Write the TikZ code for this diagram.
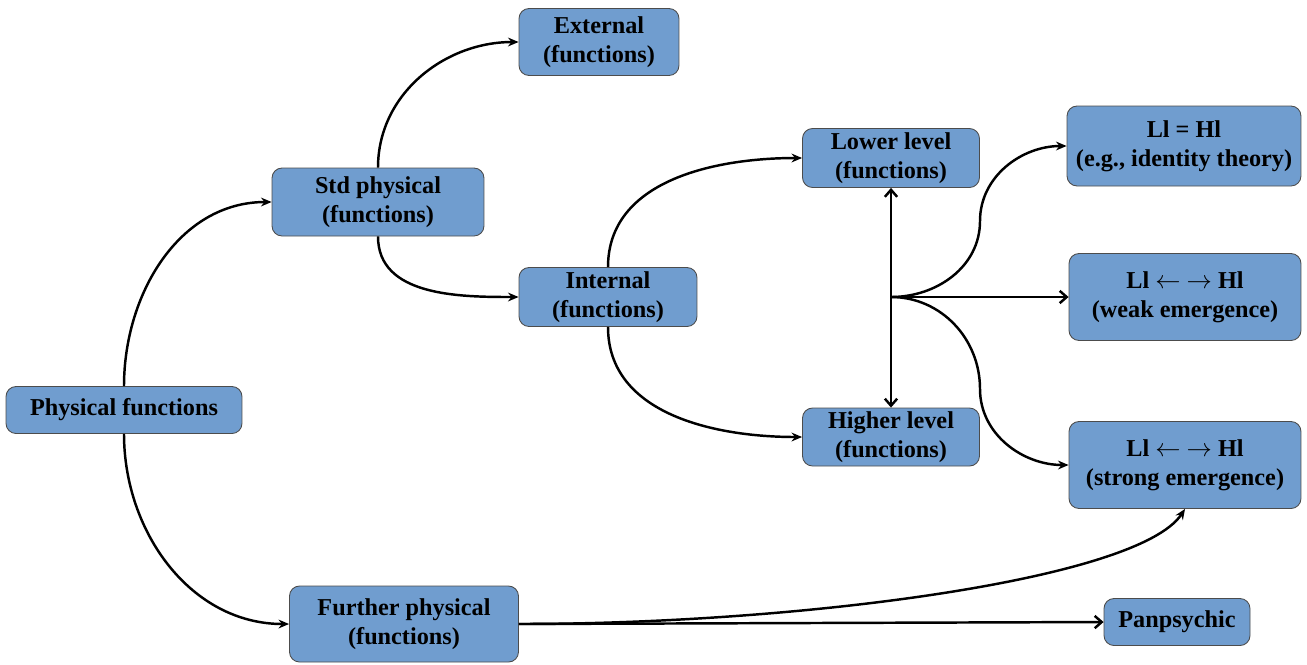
\documentclass[tikz,border=0pt]{standalone}
\usepackage{fontspec}
\setmainfont{Liberation Serif}
\usepackage{xcolor}
\usetikzlibrary{arrows, arrows.meta}
\definecolor{boxblue}{RGB}{112,157,207}
\tikzset{
	box/.style={draw=black!70, line width=0.5pt, fill=boxblue, rounded corners=0.2cm,
		align=center, inner sep=0pt, font=\fontsize{13.8}{16.5}\selectfont\bfseries},
	link/.style={line width=1.4pt, -{Stealth[length=6pt,width=5pt]}},
	openlink/.style={line width=1.4pt, -{Straight Barb[length=4pt,width=7pt]}},
}

\begin{document}
\begin{tikzpicture}[x=0.02cm,y=-0.02cm]
				\useasboundingbox (0,0) rectangle (1307,664);
				\node[box, minimum width=4.72cm, minimum height=0.94cm](phys) at (124,410){Physical functions};
				\node[box, minimum width=4.24cm, minimum height=1.36cm](std) at (378,202){Std physical\\(functions)};
				\node[box, minimum width=3.2cm, minimum height=1.34cm](ext) at (599,42){External\\(functions)};
				\node[box, minimum width=3.56cm, minimum height=1.18cm](intl) at (608,297){Internal\\(functions)};
				\node[box, minimum width=3.54cm, minimum height=1.18cm](lower) at (891,158){Lower level\\(functions)};
				\node[box, minimum width=3.54cm, minimum height=1.16cm](higher) at (891,437){Higher level\\(functions)};
				\node[box, minimum width=4.68cm, minimum height=1.6cm](ident) at (1184,146){Ll = Hl\\(e.g., identity theory)};
				\node[box, minimum width=4.64cm, minimum height=1.74cm](weak) at (1185,297){Ll $\leftarrow$ $\rightarrow$ Hl\\(weak emergence)};
				\node[box, minimum width=4.64cm, minimum height=1.74cm](strong) at (1185,465){Ll $\leftarrow$ $\rightarrow$ Hl\\(strong emergence)};
				\node[box, minimum width=4.58cm, minimum height=1.52cm](further) at (404,624){Further physical\\(functions)};
				\node[box, minimum width=2.92cm, minimum height=0.94cm](panpsy) at (1177,622){Panpsychic};
				\coordinate(hub) at (891,297);
				\coordinate(upbend) at (980,221);
				\coordinate(downbend) at (980,389);
				\draw[link] (phys.north) to[out=90, in=180] (std.west);
				\draw[link] (phys.south) to[out=-90, in=180] (further.west);
				\draw[link] (std.north) to[out=90, in=180] (ext.west);
				\draw[link] (std.south) to[out=-90, in=180] (intl.west);
				\draw[link] (intl.north) to[out=90, in=180] (lower.west);
				\draw[link] (intl.south) to[out=-90, in=180] (higher.west);
				\draw[openlink, {Straight Barb[length=4pt,width=7pt]}-{Straight Barb[length=4pt,width=7pt]}] (lower.south) -- (higher.north);
				\draw[link] (hub) to[out=0, in=-90] (upbend) to[out=90, in=180] (ident.west);
				\draw[openlink] (hub) -- (weak.west);
				\draw[link] (hub) to[out=0, in=90] (downbend) to[out=-90, in=180] (strong.west);
				\draw[link] (further.east) .. controls +(280,0) and +(-47,71) .. (strong.south);
				\draw[openlink] (further.east) -- (panpsy.west);
			\end{tikzpicture}
\end{document}
